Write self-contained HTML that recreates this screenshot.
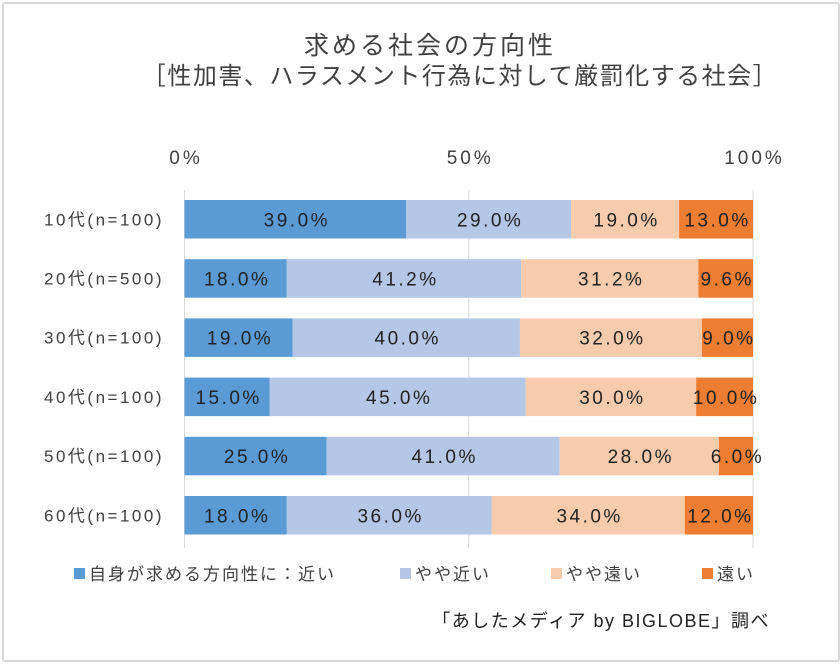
<!DOCTYPE html>
<html><head><meta charset="utf-8"><style>
html,body{margin:0;padding:0;background:#fff}
body{width:840px;height:664px;position:relative;overflow:hidden;font-family:"Liberation Sans","Noto Sans CJK JP",sans-serif;color:#333}
#frame{position:absolute;left:2px;top:2px;width:834px;height:656px;border:2px solid #d9d9d9;border-radius:3px}
svg{position:absolute;left:0;top:0}
</style></head><body>
<div id="frame"></div>
<svg id="chart" width="840" height="664">
<text x="430" y="54" text-anchor="middle" font-size="25" letter-spacing="3" fill="#404040">求める社会の方向性</text>
<text x="460" y="84" text-anchor="middle" font-size="24" letter-spacing="1.5" fill="#404040">［性加害、ハラスメント行為に対して厳罰化する社会］</text>
<text x="770" y="627" text-anchor="end" font-size="18" letter-spacing="1.5" fill="#222">「あしたメディア by BIGLOBE」調べ</text>
</svg>
<script>
const categories=["10代(n=100)","20代(n=500)","30代(n=100)","40代(n=100)","50代(n=100)","60代(n=100)"];
const seriesNames=["自身が求める方向性に：近い","やや近い","やや遠い","遠い"];
const near=[39.0,18.0,19.0,15.0,25.0,18.0];
const someNear=[29.0,41.2,40.0,45.0,41.0,36.0];
const someFar=[19.0,31.2,32.0,30.0,28.0,34.0];
const far=[13.0,9.6,9.0,10.0,6.0,12.0];
const ticks=[0,50,100];
const tickLabels=["0%","50%","100%"];
const colors=["#5B9BD5","#B4C7E7","#F8CBAD","#ED7D31"];
const NS="http://www.w3.org/2000/svg";
const svg=document.getElementById('chart');
const x0=184.5,x1=753,yTop=190,rowH=59.2,barH=38.5;
const xs=v=>x0+(x1-x0)*v/100;
const yRow=i=>200+i*rowH;
function mk(t,a){const e=document.createElementNS(NS,t);for(const k in a)e.setAttribute(k,a[k]);svg.appendChild(e);return e;}
ticks.forEach((t,i)=>{
 const l=mk('line',{x1:xs(t),x2:xs(t),y1:yTop,y2:548,stroke:'#d9d9d9','stroke-width':1});
 
 
 const tx=mk('text',{x:xs(t)+1.5,y:164,'text-anchor':'middle','font-size':19,'letter-spacing':3,fill:'#404040'});
 tx.textContent=tickLabels[i];
 
 
});
const series=[near,someNear,someFar,far];
categories.forEach((c,i)=>{
 const y=yRow(i);
 const ct=mk('text',{x:164,y:y+barH/2+6,'text-anchor':'end','font-size':17,'letter-spacing':2.5,fill:'#404040'});
 ct.textContent=c;
 
 
 let acc=0;
 series.forEach((s,j)=>{
  const v=s[i];
  const r=mk('rect',{x:xs(acc),y:y,width:xs(acc+v)-xs(acc),height:barH,fill:colors[j]});
  
  
  const t=mk('text',{x:(xs(acc)+xs(acc+v))/2+1.5,y:y+barH/2+7,'text-anchor':'middle','font-size':19,'letter-spacing':2.5,fill:'#222'});
  t.textContent=v.toFixed(1)+'%';
  
  
  acc+=v;
 });
});
const lx=[74,400,551,702];
seriesNames.forEach((n,j)=>{
 const r=mk('rect',{x:lx[j],y:568,width:11,height:11,fill:colors[j]});
 
 
 const t=mk('text',{x:lx[j]+15,y:580,'font-size':17,'letter-spacing':2,fill:'#404040'});
 t.textContent=n;
 
 
});
</script>
</body></html>
